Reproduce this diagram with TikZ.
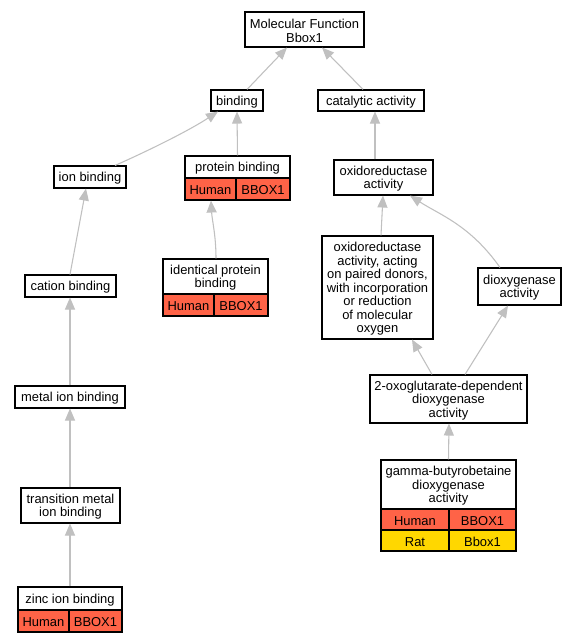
\documentclass[tikz,border=0pt]{standalone}
\usepackage{fontspec}
\setmainfont{Liberation Sans}
\usetikzlibrary{arrows.meta,calc}
\definecolor{human}{HTML}{FF6347}
\definecolor{rat}{HTML}{FFD700}
\definecolor{edgegray}{HTML}{C0C0C0}
\tikzset{
  gobox/.style={draw=black, line width=0.8pt, inner sep=0pt},
  golabel/.style={inner sep=0pt, align=center,
    font=\fontsize{9.7}{10.1}\selectfont},
  edge/.style={draw=edgegray, line width=0.8pt,
    -{Triangle[length=9pt,width=7.5pt,fill=edgegray]}},
}
\newcommand\gbox[7]{%
  \node[gobox, fill=#6, minimum width={(#4-#2)*0.75pt}, minimum height={(#5-#3)*0.75pt}]
    (#1) at ({(#2+#4)/2},{(#3+#5)/2}) {};
  \node[golabel] (#1-text) at ($(#1.center)+(0,1.3)$) {#7};}
\begin{document}
\begin{tikzpicture}[x=0.75pt,y=-0.75pt]
\useasboundingbox[fill=white] (0,0) rectangle (577,643);
% boxes
\gbox{mf}{245}{12}{364}{47}{white}{Molecular Function\\Bbox1}
\gbox{bind}{211}{90}{263}{111}{white}{binding}
\gbox{cat}{318}{90}{424}{111}{white}{catalytic activity}
\gbox{ion}{54}{166}{126}{188}{white}{ion binding}
\gbox{pb}{185}{156}{290}{178}{white}{protein binding}
\gbox{pbh}{185}{178}{236}{200}{human}{Human}
\gbox{pbg}{236}{178}{290}{200}{human}{BBOX1}
\gbox{ox}{334}{160}{433}{195}{white}{oxidoreductase\\activity}
\gbox{act}{322}{236}{433}{339}{white}{oxidoreductase\\activity, acting\\on paired donors,\\with incorporation\\or reduction\\of molecular\\oxygen}
\gbox{diox}{478}{268}{561}{305}{white}{dioxygenase\\activity}
\gbox{cation}{25}{275}{116}{297}{white}{cation binding}
\gbox{ipb}{163}{259}{268}{294}{white}{identical protein\\binding}
\gbox{ipbh}{163}{294}{214}{316}{human}{Human}
\gbox{ipbg}{214}{294}{268}{316}{human}{BBOX1}
\gbox{metal}{15}{386}{125}{408}{white}{metal ion binding}
\gbox{oxo}{370}{375}{527}{423}{white}{2-oxoglutarate-dependent\\dioxygenase\\activity}
\gbox{trans}{21}{488}{120}{523}{white}{transition metal\\ion binding}
\gbox{gam}{381}{460}{516}{509}{white}{gamma-butyrobetaine\\dioxygenase\\activity}
\gbox{gamh}{381}{509}{449}{530}{human}{Human}
\gbox{gamg}{449}{509}{516}{530}{human}{BBOX1}
\gbox{gamr}{381}{530}{449}{551}{rat}{Rat}
\gbox{gamrg}{449}{530}{516}{551}{rat}{Bbox1}
\gbox{zinc}{18}{587}{122}{610}{white}{zinc ion binding}
\gbox{zinch}{18}{610}{69}{632}{human}{Human}
\gbox{zincg}{69}{610}{122}{632}{human}{BBOX1}
% edges
\draw[edge] ($(bind.north)+(10,0)$) -- ($(mf.south)+(-17.5,0)$);
\draw[edge] ($(cat.north)+(-8,0)$) -- ($(mf.south)+(17.5,0)$);
\draw[edge] ($(ion.north)+(25,0)$) .. controls (150,150) and (190,130) .. ($(bind.south)+(-19,0)$);
\draw[edge] (pb.north) -- (bind.south);
\draw[edge] ($(ipb.north)+(0.5,0)$) .. controls (216,235) and (212,220) .. ($(pbh.south)+(0.5,0)$);
\draw[edge] ($(ox.north)+(-8.5,0)$) -- ($(cat.south)+(4,0)$);
\draw[edge] ($(act.north)+(3.5,0)$) -- ($(ox.south)+(-0.5,0)$);
\draw[edge] ($(diox.north)+(-19.5,0)$) .. controls (470,225) and (440,215) .. ($(ox.south)+(26.5,0)$);
\draw[edge] ($(oxo.north)+(-16.5,0)$) -- ($(act.south)+(34.5,0)$);
\draw[edge] ($(oxo.north)+(16.5,0)$) -- ($(diox.south)+(-11.5,0)$);
\draw[edge] (gam.north) -- ($(oxo.south)+(0.5,0)$);
\draw[edge] ($(cation.north)+(-0.5,0)$) -- ($(ion.south)+(-4,0)$);
\draw[edge] (metal.north) -- ($(cation.south)+(-0.5,0)$);
\draw[edge] ($(trans.north)+(-0.5,0)$) -- (metal.south);
\draw[edge] (zinc.north) -- ($(trans.south)+(-0.5,0)$);
\end{tikzpicture}
\end{document}
